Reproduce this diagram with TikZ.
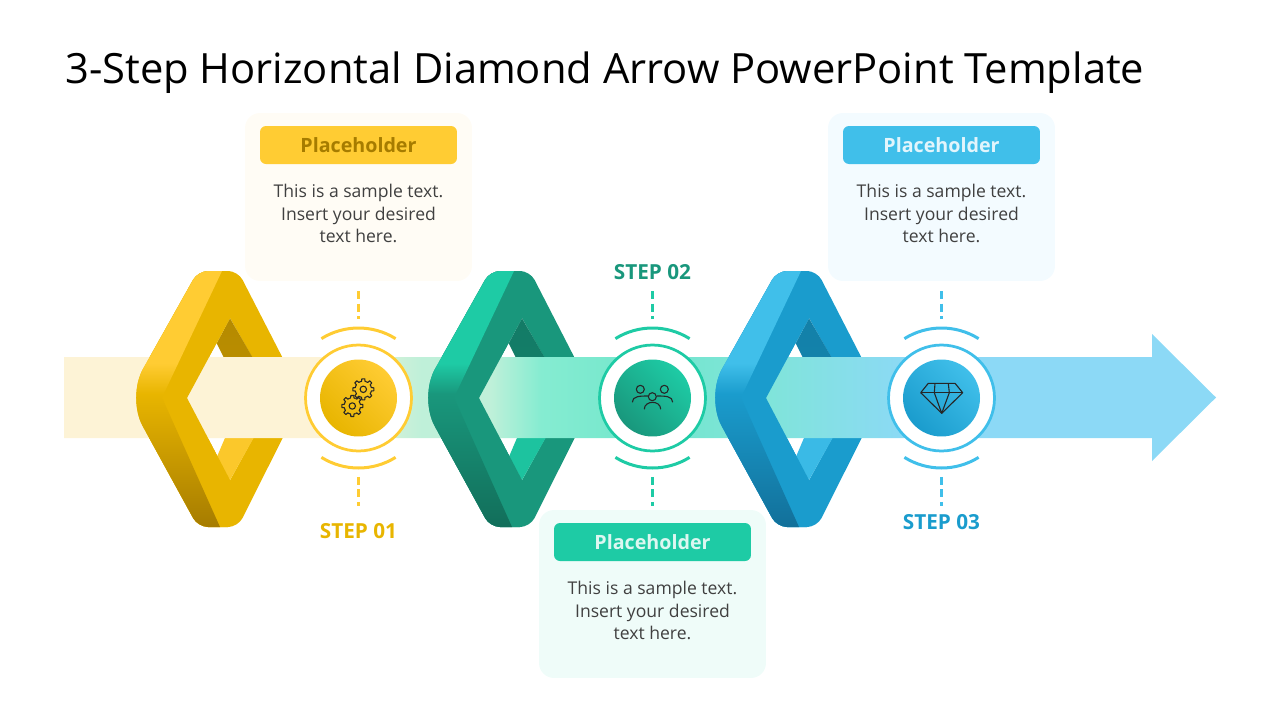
\documentclass[tikz,border=0pt]{standalone}
\usepackage{fontspec}
\setmainfont{Open Sans}
\usetikzlibrary{positioning}

\definecolor{yelLite}{HTML}{FFCC33}
\definecolor{yelFace}{HTML}{E8B500}
\definecolor{yelDark}{HTML}{A67C00}
\definecolor{yelWall}{HTML}{B58A00}
\definecolor{yelCard}{HTML}{FFFCF5}
\definecolor{grnLite}{HTML}{1ECBA5}
\definecolor{grnFace}{HTML}{19977C}
\definecolor{grnDark}{HTML}{126E5A}
\definecolor{grnWall}{HTML}{137B66}
\definecolor{grnCard}{HTML}{EFFCF9}
\definecolor{bluLite}{HTML}{40BFEA}
\definecolor{bluFace}{HTML}{1A9CCD}
\definecolor{bluDark}{HTML}{12709A}
\definecolor{bluWall}{HTML}{1380A8}
\definecolor{bluCard}{HTML}{F3FBFF}
\definecolor{band0}{HTML}{FDF3D6}
\definecolor{band1}{HTML}{BFF0D9}
\definecolor{band2}{HTML}{85ECD1}
\definecolor{band3}{HTML}{72E6CC}
\definecolor{band4}{HTML}{80E4DA}
\definecolor{band5}{HTML}{8CD9F6}

\pgfdeclarehorizontalshading{bandshade}{100bp}{color(0bp)=(band0); color(36bp)=(band0);
  color(40.5bp)=(band1); color(43.5bp)=(band1); color(45.7bp)=(band2); color(50.4bp)=(band3);
  color(55.6bp)=(band4); color(61.7bp)=(band5); color(100bp)=(band5)}
\pgfdeclareverticalshading{yelStrip}{100bp}{color(0bp)=(yelDark); color(25bp)=(yelDark);
  color(51bp)=(yelFace); color(57bp)=(yelLite); color(100bp)=(yelLite)}
\pgfdeclareverticalshading{grnStrip}{100bp}{color(0bp)=(grnDark); color(25bp)=(grnDark);
  color(51bp)=(grnFace); color(57bp)=(grnLite); color(100bp)=(grnLite)}
\pgfdeclareverticalshading{bluStrip}{100bp}{color(0bp)=(bluDark); color(25bp)=(bluDark);
  color(51bp)=(bluFace); color(57bp)=(bluLite); color(100bp)=(bluLite)}

% outline of one ring, apex at x=0
\newcommand{\ringoutline}{
  \clip[rounded corners=.2cm] (-32,271) [rounded corners=.65cm] -- (-103,397.5)
    [rounded corners=.2cm] -- (-32,527) -- (8,527) -- (73,397.5) -- (8,271) -- cycle;
}

\begin{document}
\begin{tikzpicture}[x=.02cm,y=-.02cm,
  title/.style={anchor=west,inner sep=0,font=\fontsize{23.73}{28}\selectfont},
  card/.style={rounded corners=.3cm,minimum width=4.54cm,minimum height=3.36cm,inner sep=0},
  head/.style={rounded corners=.12cm,minimum width=3.94cm,minimum height=.76cm,inner sep=0,
    font=\fontsize{11.2}{13}\selectfont\bfseries},
  bodytext/.style={align=center,inner sep=0,text=black!75,font=\fontsize{10}{12.8}\selectfont},
  steplabel/.style={inner sep=0,font=\fontsize{11.8}{14}\selectfont\bfseries},
  ring/.style={circle,fill=white,line width=.055cm,minimum size=2.12cm,inner sep=0},
  disc/.style={circle,minimum size=1.54cm,inner sep=0},
  wave/.style={line width=.06cm},
  dashline/.style={line width=.06cm,dash pattern=on .16cm off .09cm},
  icon/.style={line width=.022cm,black!85,line join=round}]

  \useasboundingbox (0,0) rectangle (1280,720);

  \node[title] (title) at (65,72.5) {3-Step Horizontal Diamond Arrow PowerPoint Template};

  % cards
  \node[card,fill=yelCard] (card1) at (358.5,197) {};
  \node[card,fill=grnCard] (card2) at (652.5,594) {};
  \node[card,fill=bluCard] (card3) at (941.5,197) {};
  \node[head,fill=yelLite,text=yelDark,below=.26cm of card1.north] (head1) {Placeholder};
  \node[head,fill=grnLite,text=white!85!grnLite,below=.26cm of card2.north] (head2) {Placeholder};
  \node[head,fill=bluLite,text=white!85!bluLite,below=.26cm of card3.north] (head3) {Placeholder};
  \node[bodytext,below=.39cm of head1] (text1) {This is a sample text.\\Insert your desired\\text here.};
  \node[bodytext,below=.39cm of head2] (text2) {This is a sample text.\\Insert your desired\\text here.};
  \node[bodytext,below=.39cm of head3] (text3) {This is a sample text.\\Insert your desired\\text here.};

  % rings, back part
  \foreach \cx/\col in {230/yel,522/grn,809/blu} {
    \begin{scope}[shift={(\cx,0)}]
      \ringoutline
      \fill[\col Face] (-120,260) rectangle (120,540);
      \fill[white] (0,318.3) -- (-43,398) -- (0,480) -- (45,398) -- cycle;
      \shade[top color=\col Wall,bottom color=\col Wall!85!\col Face] (0,318.3) -- (46,398) -- (14,398) -- (-13.3,343.3) -- cycle;
      \fill[\col Lite!85!\col Face] (0,480) -- (46,398) -- (12,398) -- (-13,456.7) -- cycle;
    \end{scope}
  }

  % arrow band
  \shade[shading=bandshade] (64,357) -- (1152,357) -- (1152,334) -- (1216,397.5)
    -- (1152,461) -- (1152,438) -- (64,438) -- cycle;

  % rings, front part
  \foreach \cx/\col in {230/yel,522/grn,809/blu} {
    \begin{scope}[shift={(\cx,0)}]
      \ringoutline
      \fill[\col Face] (0,260) -- (0,318.3) -- (-43,398) -- (0,480) -- (0,540) -- (-120,540) -- (-120,260) -- cycle;
      \shade[shading=\col Strip] (-120,271) -- (-8,271) -- (-68,397.5) -- (-10,527) -- (-120,527) -- cycle;
    \end{scope}
  }

  % step circles
  \node[ring,draw=yelLite] (ring1) at (358.5,398) {};
  \node[ring,draw=grnLite] (ring2) at (652.5,398) {};
  \node[ring,draw=bluLite] (ring3) at (941.5,398) {};
  \node[disc,top color=yelLite,bottom color=yelFace,shading angle=-45] (disc1) at (ring1) {};
  \node[disc,top color=grnLite,bottom color=grnFace,shading angle=-45] (disc2) at (ring2) {};
  \node[disc,top color=bluLite,bottom color=bluFace,shading angle=-45] (disc3) at (ring3) {};

  % waves and dashes
  \foreach \n/\col in {1/yel,2/grn,3/blu} {
    \draw[wave,\col Lite] (ring\n) ++(-122:70) arc[start angle=-122,end angle=-58,radius=70];
    \draw[wave,\col Lite] (ring\n) ++(122:70) arc[start angle=122,end angle=58,radius=70];
    \coordinate (dashA\n) at ([yshift=2.14cm]ring\n.center);
    \coordinate (dashB\n) at ([yshift=1.58cm]ring\n.center);
    \coordinate (dashC\n) at ([yshift=-1.58cm]ring\n.center);
    \coordinate (dashD\n) at ([yshift=-2.16cm]ring\n.center);
    \draw[dashline,\col Lite] (dashA\n) -- (dashB\n);
    \draw[dashline,\col Lite] (dashC\n) -- (dashD\n);
  }

  \node[steplabel,text=yelFace] (step1) at (358.5,531) {STEP 01};
  \node[steplabel,text=grnFace] (step2) at (652.5,272) {STEP 02};
  \node[steplabel,text=bluFace] (step3) at (941.5,522) {STEP 03};

  % gears
  \foreach \gx/\gy in {363.3/389.3,352.3/406} {
    \begin{scope}[shift={(\gx,\gy)}]
      \draw[icon] (0,0) circle[radius=3.2];
      \foreach \a in {0,45,...,315}
        \draw[icon] (\a-22.5:8.2) -- (\a-12:8.2) -- (\a-8:10.6) -- (\a+8:10.6) -- (\a+12:8.2) -- (\a+22.5:8.2);
    \end{scope}
  }

  % people
  \draw[icon] (640.3,389.3) circle[radius=4] (664.3,389.3) circle[radius=4] (652.3,396.7) circle[radius=4];
  \draw[icon] (632.3,402.3) .. controls (632.3,396) and (640,396) .. (648,396);
  \draw[icon] (672.7,402.3) .. controls (672.7,396) and (665,396) .. (657,396);
  \draw[icon] (644.3,409.3) .. controls (644.3,400) and (660.7,400) .. (660.7,409.3);

  % gem
  \draw[icon] (928.3,383.3) -- (955,383.3) -- (962.7,392.7) -- (941.7,413.3) -- (920.7,392.7) -- cycle;
  \draw[icon] (920.7,392.7) -- (962.7,392.7);
  \draw[icon] (935,383.3) -- (934.3,392.7) -- (941.7,413.3) -- (949.3,392.7) -- (948.3,383.3);
\end{tikzpicture}
\end{document}
